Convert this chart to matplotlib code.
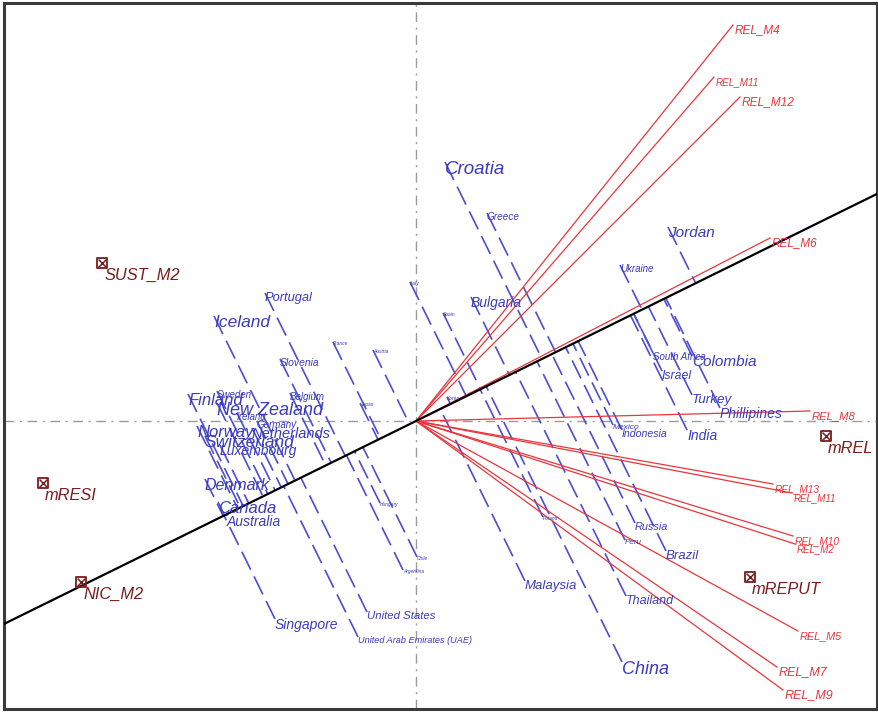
import numpy as np
import matplotlib
matplotlib.use('Agg')
import matplotlib.pyplot as plt

plt.rcParams['font.family'] = ['Liberation Sans', 'DejaVu Sans']

# object scores on the two dimensions
countries = ['Croatia', 'China', 'Jordan', 'Colombia', 'Bulgaria', 'Iceland', 'Finland',
             'New Zealand', 'Norway', 'Netherlands', 'Switzerland', 'Luxembourg', 'Sweden',
             'Ireland', 'Germany', 'Belgium', 'Slovenia', 'Portugal', 'Denmark', 'Canada',
             'Australia', 'Singapore', 'United States', 'United Arab Emirates (UAE)', 'Greece',
             'Ukraine', 'South Africa', 'Israel', 'Turkey', 'Phillipines', 'India', 'Mexico',
             'Indonesia', 'Russia', 'Peru', 'Brazil', 'Malaysia', 'Thailand', 'Italy',
             'Spain', 'Austria', 'France', 'Japan', 'Korea', 'Chile', 'Argentina', 'Poland',
             'Hungary']
dim1 = [0.29, 2.06, 2.52, 2.76, 0.55, -2.02, -2.28,
        -1.99, -2.19, -1.64, -2.11, -1.96, -1.99,
        -1.79, -1.59, -1.26, -1.36, -1.51, -2.11, -1.98,
        -1.89, -1.41, -0.49, -0.58, 0.71,
        2.04, 2.37, 2.46, 2.76, 3.04, 2.71, 1.97,
        2.06, 2.19, 2.09, 2.50, 1.09, 2.10, -0.06,
        0.27, -0.43, -0.83, -0.56, 0.31, 0.01, -0.13, 1.27,
        -0.36]
dim2 = [2.59, -2.41, 1.94, 0.65, 1.24, 1.05, 0.27,
        0.18, -0.05, -0.07, -0.15, -0.24, 0.30,
        0.08, 0.00, 0.28, 0.62, 1.28, -0.58, -0.81,
        -0.95, -1.98, -1.91, -2.16, 2.08,
        1.56, 0.68, 0.50, 0.26, 0.13, -0.09, -0.04,
        -0.09, -1.02, -1.19, -1.30, -1.60, -1.75, 1.39,
        1.08, 0.71, 0.79, 0.18, 0.24, -1.36, -1.49, -0.96,
        -0.82]

# label font sizes follow the country weights
label_pt = [13.5, 13, 11, 11, 10, 12.5, 12,
            13, 12, 10.5, 12.5, 10, 7,
            7, 7, 7, 7.5, 9.3, 11.5, 12,
            10, 10, 8.2, 6.6, 7.2,
            7, 7, 8.8, 9.7, 10, 10, 6,
            7.6, 7.8, 5.8, 9.5, 9.5, 9, 4,
            3.5, 3.5, 3.5, 3.5, 3.5, 3.5, 3.5, 3.5,
            3.5]

# component loadings of the reliability items
items = ['REL_M4', 'REL_M11', 'REL_M12', 'REL_M6', 'REL_M8', 'REL_M13', 'REL_M11',
         'REL_M10', 'REL_M2', 'REL_M5', 'REL_M7', 'REL_M9']
item_x = [3.17, 2.98, 3.24, 3.54, 3.94, 3.57, 3.76, 3.77, 3.79, 3.82, 3.61, 3.67]
item_y = [3.96, 3.44, 3.24, 1.83, 0.10, -0.63, -0.72, -1.15, -1.23, -2.10, -2.46, -2.69]
item_pt = [8.5, 7.1, 8.6, 8.5, 8.1, 7.3, 7, 7.3, 7, 7.8, 9, 9]

# supplementary variables
supp = ['SUST_M2', 'mRESI', 'NIC_M2', 'mREL', 'mREPUT']
supp_x = [-3.14, -3.73, -3.35, 4.10, 3.34]
supp_y = [1.58, -0.62, -1.61, -0.15, -1.56]

# slope of the fitted projection axis
axis_slope = 0.4926

blue_txt = '#3b3bbb'
blue_line = '#4d4dd3'
red = '#e8363c'
brown = '#7a1d1d'

fig = plt.figure(figsize=(8.79, 7.12), dpi=100)
ax = fig.add_axes([4 / 879, 3 / 712, 873 / 879, 706 / 712])
ax.set_xlim(-4.12, 4.61)
ax.set_ylim(-2.88, 4.18)
ax.set_xticks([])
ax.set_yticks([])
for sp in ax.spines.values():
    sp.set_color('#3a3a3a')
    sp.set_linewidth(2.2)

# origin cross
ax.axhline(0, color='#9c9c9c', lw=1.0, ls=(0, (7, 4, 1.5, 4)), zorder=1)
ax.axvline(0, color='#9c9c9c', lw=1.0, ls=(0, (7, 4, 1.5, 4)), zorder=1)

# projections of countries onto the axis
ang = np.arctan(axis_slope)
u = np.array([np.cos(ang), np.sin(ang)])
for x, y in zip(dim1, dim2):
    t = x * u[0] + y * u[1]
    ax.plot([x, t * u[0]], [y, t * u[1]], color=blue_line, lw=1.2,
            ls=(0, (12, 4.5)), zorder=2)

# item vectors
for name, x, y, fs in zip(items, item_x, item_y, item_pt):
    ax.plot([0, x], [0, y], color=red, lw=0.9, zorder=3)
    ax.annotate(name, (x, y), xytext=(1.5, -3.5), textcoords='offset points',
                ha='left', va='center', fontsize=fs, color=red, style='italic', zorder=6)

ax.axline((0, 0), slope=axis_slope, color='black', lw=1.6, zorder=4)

for name, x, y, fs in zip(countries, dim1, dim2, label_pt):
    ax.annotate(name, (x, y), xytext=(0, 0.5), textcoords='offset points',
                ha='left', va='top', fontsize=fs, color=blue_txt, style='italic', zorder=5)

# supplementary points
ax.scatter(supp_x, supp_y, marker='s', s=60, facecolors='none', edgecolors=brown,
           linewidths=1.3, zorder=6)
ax.scatter(supp_x, supp_y, marker='x', s=32, color=brown, linewidths=1.1, zorder=6)
for name, x, y in zip(supp, supp_x, supp_y):
    ax.annotate(name, (x, y), xytext=(1.5, -9), textcoords='offset points',
                ha='left', va='center', fontsize=11.8, color=brown, style='italic', zorder=6)

fig.savefig('out.png', dpi=100)
